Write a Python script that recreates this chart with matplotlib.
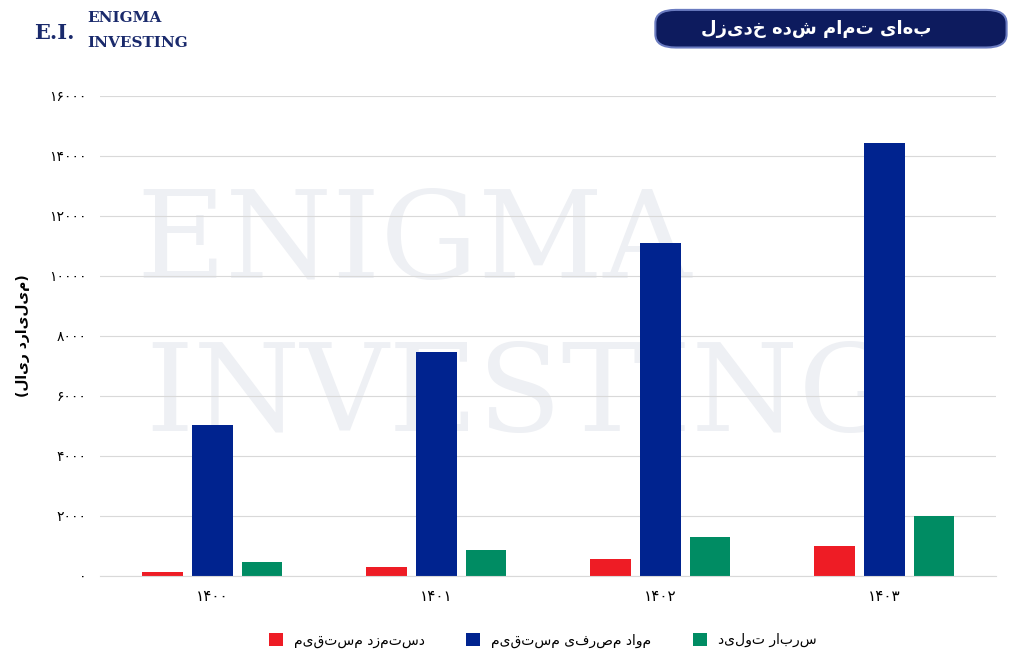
import matplotlib.pyplot as plt
import numpy as np
from matplotlib.patches import FancyBboxPatch

plt.rcParams['font.family'] = ['DejaVu Sans']

# داده‌ها
years = ['۱۴۰۰', '۱۴۰۱', '۱۴۰۲', '۱۴۰۳']
direct_labor = [130, 270, 535, 970]
direct_material = [5020, 7465, 11080, 14430]
overhead = [435, 840, 1270, 1975]
yticks = [0, 2000, 4000, 6000, 8000, 10000, 12000, 14000, 16000]
ytick_labels = ['۰', '۲۰۰۰', '۴۰۰۰', '۶۰۰۰', '۸۰۰۰', '۱۰۰۰۰', '۱۲۰۰۰', '۱۴۰۰۰', '۱۶۰۰۰']
names = ['دستمزد مستقیم', 'مواد مصرفی مستقیم', 'سربار تولید']
colors = ['#ee1c25', '#00238f', '#008c63']
title = 'بهای تمام شده خدیزل'
ylabel = '(میلیارد ریال)'


def rtl(s):
    # ترتیب نمایش راست به چپ (بدون اتصال حروف)
    s = s[::-1]
    return s.translate(str.maketrans('()', ')('))


fig = plt.figure(figsize=(10.24, 6.6), dpi=100)
ax = fig.add_axes([0.098, 0.128, 0.875, 0.727])
ax.patch.set_alpha(0)

x = np.arange(len(years))
for i, (vals, c) in enumerate(zip([direct_labor, direct_material, overhead], colors)):
    ax.bar(x + (i - 1) * 0.223, vals, width=0.18, color=c, zorder=2, label=rtl(names[i]))

ax.set_xlim(-0.5, 3.5)
ax.set_ylim(0, 16000)
ax.set_yticks(yticks)
ax.set_yticklabels(ytick_labels, fontsize=10)
ax.set_xticks(x)
ax.set_xticklabels(years, fontsize=11)
ax.grid(axis='y', color='#d9d9d9', lw=0.8, zorder=0)
for s in ['top', 'right', 'left']:
    ax.spines[s].set_visible(False)
ax.spines['bottom'].set_color('#d9d9d9')
ax.tick_params(length=0, pad=10)
ax.set_ylabel(rtl(ylabel), fontsize=10, fontweight='bold', labelpad=14)

# واترمارک
ax.text(0.04, 0.69, 'ENIGMA', fontsize=88, family='DejaVu Serif', color='#eef0f4',
        ha='left', va='center', zorder=1, transform=ax.transAxes)
ax.text(0.05, 0.37, 'INVESTING', fontsize=88, family='DejaVu Serif', color='#eef0f4',
        ha='left', va='center', zorder=1, transform=ax.transAxes)

# لوگو
fig.text(0.033, 0.95, 'E.I.', fontsize=15, family='DejaVu Serif', fontweight='bold',
         color='#1a2a6c', va='center')
fig.text(0.085, 0.972, 'ENIGMA', fontsize=11, family='DejaVu Serif', fontweight='bold',
         color='#1a2a6c', va='center')
fig.text(0.085, 0.935, 'INVESTING', fontsize=11, family='DejaVu Serif', fontweight='bold',
         color='#1a2a6c', va='center')

# عنوان
box = FancyBboxPatch((0.64, 0.928), 0.343, 0.057, boxstyle='round,pad=0,rounding_size=0.02',
                     transform=fig.transFigure, facecolor='#0d1b5e', edgecolor='#6a7bc0', lw=1.5)
fig.patches.append(box)
fig.text(0.91, 0.956, rtl(title), fontsize=13, fontweight='bold', color='white',
         ha='right', va='center')

fig.legend(loc='lower center', bbox_to_anchor=(0.53, 0.0),
           ncol=3, frameon=False, fontsize=10, handlelength=1, handleheight=1,
           columnspacing=3)

fig.savefig('out.png', dpi=100, facecolor='white')
